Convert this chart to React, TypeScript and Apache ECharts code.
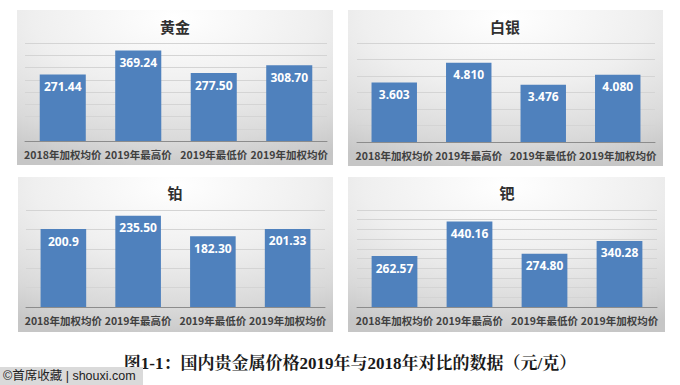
import React, { useEffect, useRef } from 'react';
import * as echarts from 'echarts';

const categories = ['2018年加权均价', '2019年最高价', '2019年最低价', '2019年加权均价'];
const panelTitles = ['黄金', '白银', '铂', '钯'];
const goldPrices = ['271.44', '369.24', '277.50', '308.70'];
const silverPrices = ['3.603', '4.810', '3.476', '4.080'];
const platinumPrices = ['200.9', '235.50', '182.30', '201.33'];
const palladiumPrices = ['262.57', '440.16', '274.80', '340.28'];
const axisMax = [400, 6, 250, 500];
const axisInterval = [50, 1, 50, 50];
const caption = '图1-1：国内贵金属价格2019年与2018年对比的数据（元/克）';
const watermark = '©首席收藏 | shouxi.com';

const seriesPrices = [goldPrices, silverPrices, platinumPrices, palladiumPrices];

const panels = [
  { x: 17, y: 10, w: 316, h: 155 },
  { x: 348, y: 10, w: 315, h: 156 },
  { x: 18, y: 177, w: 315, h: 155 },
  { x: 348, y: 177, w: 317, h: 155 },
];
const grids = [
  { left: 25, top: 43, width: 302, height: 98 },
  { left: 357, top: 43, width: 298, height: 99 },
  { left: 26, top: 210, width: 299, height: 97 },
  { left: 357, top: 210, width: 300, height: 97 },
];
const titleCenters = [
  { x: 175, y: 27 },
  { x: 505, y: 27 },
  { x: 175, y: 193 },
  { x: 507, y: 193 },
];

const CJK = "'Noto Sans CJK SC', 'Noto Sans', sans-serif";

export default function App() {
  const ref = useRef<HTMLDivElement>(null);
  useEffect(() => {
    if (!ref.current) return;
    const chart = echarts.init(ref.current, undefined, { renderer: 'svg' });

    const bgRects = panels.map((p) => ({
      type: 'rect',
      z: -10,
      shape: { x: p.x, y: p.y, width: p.w, height: p.h },
      style: {
        fill: new echarts.graphic.RadialGradient(0.5, 0.05, 1.0, [
          { offset: 0, color: '#ffffff' },
          { offset: 0.45, color: '#efefef' },
          { offset: 0.8, color: '#d9d9d9' },
          { offset: 1, color: '#c6c6c6' },
        ]),
      },
    }));

    const option: any = {
      animation: false,
      backgroundColor: '#ffffff',
      title: panelTitles.map((t, i) => ({
        text: t,
        left: titleCenters[i].x,
        top: titleCenters[i].y - 8,
        textAlign: 'center',
        padding: 0,
        textStyle: { fontSize: 15, fontWeight: 'bold', color: '#303030', fontFamily: CJK },
      })),
      grid: grids.map((g) => ({ ...g, containLabel: false })),
      xAxis: grids.map((_, i) => ({
        type: 'category',
        gridIndex: i,
        data: categories,
        axisLine: { show: true, lineStyle: { color: '#8c8c8c', width: 1 } },
        axisTick: { show: false },
        axisLabel: {
          interval: 0,
          margin: 8,
          fontSize: 10.5,
          fontWeight: 'bold',
          color: '#404040',
          fontFamily: CJK,
        },
      })),
      yAxis: grids.map((_, i) => ({
        type: 'value',
        gridIndex: i,
        min: 0,
        max: axisMax[i],
        interval: axisInterval[i],
        axisLine: { show: false },
        axisTick: { show: false },
        axisLabel: { show: false },
        splitLine: { show: true, lineStyle: { color: '#d4d4d4', width: 1 } },
      })),
      series: seriesPrices.map((arr, i) => ({
        type: 'bar',
        xAxisIndex: i,
        yAxisIndex: i,
        data: arr.map((v) => Number(v)),
        barWidth: '61%',
        itemStyle: { color: '#4f81bd' },
        label: {
          show: true,
          position: 'insideTop',
          distance: 6,
          color: '#ffffff',
          fontSize: 12,
          fontWeight: 'bold',
          fontFamily: "'Noto Sans', sans-serif",
          formatter: (p: any) => arr[p.dataIndex],
        },
      })),
      graphic: [
        ...bgRects,
        {
          type: 'text',
          z: 10,
          x: 350,
          y: 363,
          style: {
            text: caption,
            align: 'center',
            verticalAlign: 'middle',
            fontSize: 17,
            fontWeight: 'bold',
            fill: '#1a1a1a',
            fontFamily: "'Liberation Serif', 'Noto Serif CJK SC', 'Noto Sans CJK SC', serif",
          },
        },
        {
          type: 'rect',
          z: 20,
          shape: { x: 0, y: 367, width: 143, height: 18 },
          style: { fill: '#dadada' },
        },
        {
          type: 'text',
          z: 21,
          x: 3,
          y: 376,
          style: {
            text: watermark,
            align: 'left',
            verticalAlign: 'middle',
            fontSize: 12.5,
            fill: '#222222',
            fontFamily: "'Liberation Sans', 'Noto Sans CJK SC', sans-serif",
          },
        },
      ],
    };
    chart.setOption(option);
    return () => chart.dispose();
  }, []);
  return (
    <div
      ref={ref}
      style={{ position: 'fixed', left: 0, top: 0, width: 680, height: 385 }}
    />
  );
}
